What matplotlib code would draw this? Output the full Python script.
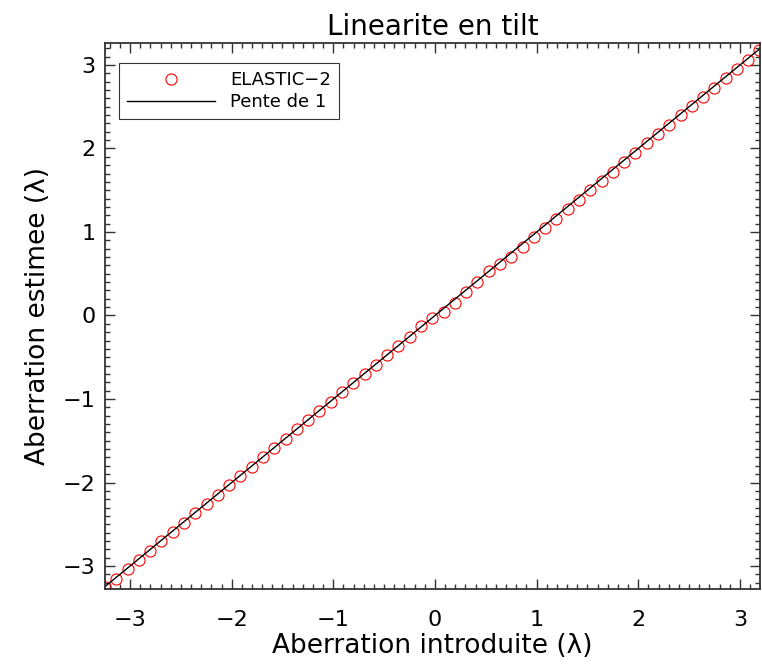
import numpy as np
import matplotlib.pyplot as plt
from matplotlib.ticker import MultipleLocator

# tilt introduced (lambda) and estimated by ELASTIC-2
x_intro = [-3.246, -3.135, -3.024, -2.913, -2.802, -2.691, -2.580, -2.469, -2.358, -2.247,
           -2.136, -2.025, -1.914, -1.803, -1.692, -1.581, -1.470, -1.359, -1.248, -1.137,
           -1.026, -0.915, -0.804, -0.693, -0.582, -0.471, -0.360, -0.249, -0.138, -0.027,
           0.084, 0.195, 0.306, 0.417, 0.528, 0.639, 0.750, 0.861, 0.972, 1.083,
           1.194, 1.305, 1.416, 1.527, 1.638, 1.749, 1.860, 1.971, 2.082, 2.193,
           2.304, 2.415, 2.526, 2.637, 2.748, 2.859, 2.970, 3.081, 3.192]
y_est = [-3.255, -3.150, -3.040, -2.925, -2.815, -2.700, -2.590, -2.480, -2.365, -2.255,
         -2.145, -2.035, -1.920, -1.810, -1.700, -1.590, -1.475, -1.365, -1.255, -1.145,
         -1.030, -0.920, -0.810, -0.700, -0.590, -0.475, -0.365, -0.255, -0.130, -0.030,
         0.045, 0.150, 0.280, 0.400, 0.530, 0.620, 0.700, 0.820, 0.940, 1.050,
         1.160, 1.270, 1.385, 1.500, 1.610, 1.720, 1.835, 1.945, 2.060, 2.170,
         2.280, 2.395, 2.505, 2.620, 2.730, 2.840, 2.955, 3.065, 3.175]
slope_x = [-3.3, 3.3]
slope_y = [-3.3, 3.3]

plt.rcParams['font.family'] = ['DejaVu Sans']
fig = plt.figure(figsize=(7.62, 6.71), dpi=100)
ax = fig.add_axes([105/762, 82/671, 655/762, 546/671])

ax.plot(x_intro, y_est, 'o', mfc='none', mec='red', ms=8, mew=0.8, label='ELASTIC\u22122')
ax.plot(slope_x, slope_y, color='black', lw=1, label='Pente de 1')

ax.set_xlim(-3.246, 3.197)
ax.set_ylim(-3.275, 3.263)
ax.xaxis.set_major_locator(MultipleLocator(1))
ax.xaxis.set_minor_locator(MultipleLocator(0.1))
ax.yaxis.set_major_locator(MultipleLocator(1))
ax.yaxis.set_minor_locator(MultipleLocator(0.1))
ax.tick_params(which='both', direction='in', top=True, right=True, width=1, color='#333333')
ax.tick_params(which='major', length=7)
ax.tick_params(which='minor', length=3.6)
ax.tick_params(axis='x', which='major', pad=15, labelsize=16)
ax.tick_params(axis='y', which='major', pad=7, labelsize=16)
for s in ax.spines.values():
    s.set_linewidth(1.3)
    s.set_color('#333333')

ax.set_xlabel('Aberration introduite (\u03bb)', fontsize=19, labelpad=2)
ax.set_ylabel('Aberration estimee (\u03bb)', fontsize=19, labelpad=8)
ax.set_title('Linearite en tilt', fontsize=20, pad=6)

leg = ax.legend(loc='upper left', bbox_to_anchor=(0.021, 0.963), fontsize=13, frameon=True,
                fancybox=False, edgecolor='black', borderpad=0.45, handlelength=4.9,
                handletextpad=0.8, labelspacing=0.2, borderaxespad=0)
leg.get_frame().set_linewidth(0.8)

plt.savefig('out.png', dpi=100)
